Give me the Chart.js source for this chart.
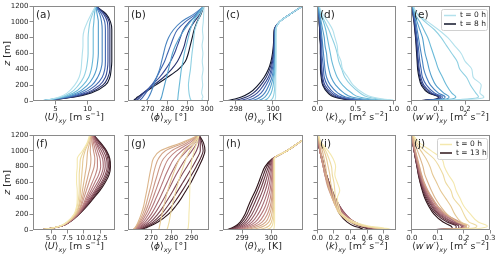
<!DOCTYPE html>
<html><head><meta charset="utf-8">
<script src="https://cdn.jsdelivr.net/npm/chart.js@4.4.1/dist/chart.umd.min.js"></script>
<style>
html,body{margin:0;padding:0;background:#fff;}
#wrap{position:relative;width:500px;height:258px;overflow:hidden;background:#fff;}
#wrap canvas{position:absolute;}
</style></head><body><div id="wrap"></div>
<script>
/* Boundary-layer profiles: top row t = 0..8 h, bottom row t = 0..13 h */

var Z = [0, 10, 25, 50, 100, 200, 300, 400, 500, 600, 700, 800, 900, 1000, 1100, 1200];
var Z_TICKS = [0, 200, 400, 600, 800, 1000, 1200];

/* ---------- top row (9 profiles) ---------- */
var U_TOP = [
  [2.2, 3.3, 4.4, 5.6, 6.8, 8.0, 8.7, 9.0, 9.1, 9.2, 9.3, 9.3, 9.5, 10.0, 10.6, 11.3],
  [2.2, 3.4, 4.6, 5.9, 7.3, 8.6, 9.4, 9.8, 10.0, 10.1, 10.1, 10.1, 10.2, 10.4, 10.8, 11.3],
  [2.2, 3.4, 4.7, 6.2, 7.8, 9.3, 10.2, 10.6, 10.8, 10.9, 10.9, 10.9, 10.9, 11.0, 11.1, 11.3],
  [2.2, 3.5, 4.8, 6.5, 8.3, 10.0, 10.9, 11.4, 11.6, 11.7, 11.7, 11.7, 11.7, 11.7, 11.5, 11.3],
  [2.2, 3.5, 4.9, 6.8, 8.8, 10.7, 11.6, 12.1, 12.3, 12.3, 12.3, 12.3, 12.3, 12.2, 11.9, 11.3],
  [2.2, 3.6, 5.0, 7.1, 9.3, 11.3, 12.3, 12.7, 12.8, 12.8, 12.8, 12.8, 12.8, 12.7, 12.2, 11.3],
  [2.2, 3.6, 5.1, 7.4, 9.8, 11.9, 12.8, 13.1, 13.2, 13.2, 13.2, 13.2, 13.2, 13.1, 12.5, 11.3],
  [2.2, 3.7, 5.2, 7.7, 10.2, 12.4, 13.2, 13.5, 13.5, 13.5, 13.5, 13.5, 13.5, 13.4, 12.7, 11.3],
  [2.2, 3.7, 5.3, 8.0, 10.6, 12.8, 13.5, 13.7, 13.8, 13.8, 13.8, 13.8, 13.8, 13.6, 12.9, 11.3]
];
var PHI_TOP = [
  [297.6, 297.8, 297.4, 297.9, 297.3, 297.8, 297.5, 298.0, 297.6, 297.9, 297.5, 298.0, 297.7, 298.1, 298.3, 298.5],
  [291.8, 291.9, 291.6, 291.3, 290.9, 290.6, 291.0, 291.6, 292.0, 292.4, 292.9, 293.3, 293.8, 295.2, 296.8, 298.5],
  [285.0, 285.1, 285.2, 285.3, 285.5, 286.0, 286.5, 287.0, 287.8, 288.5, 289.5, 290.5, 291.5, 293.0, 295.5, 298.5],
  [276.0, 276.3, 276.6, 277.0, 277.5, 278.5, 279.5, 280.5, 281.5, 282.5, 284.0, 286.0, 288.5, 291.5, 295.0, 298.5],
  [269.0, 269.4, 269.9, 270.5, 271.5, 273.0, 274.5, 276.0, 277.0, 278.0, 279.0, 280.5, 283.0, 287.0, 293.5, 298.5],
  [265.5, 266.0, 266.6, 267.5, 269.0, 272.0, 274.5, 276.5, 278.5, 280.0, 281.5, 283.0, 285.0, 289.0, 294.5, 298.5],
  [264.0, 264.5, 265.2, 266.2, 268.0, 272.0, 276.0, 279.0, 281.5, 283.5, 285.0, 286.5, 288.0, 291.0, 295.5, 298.5],
  [263.0, 263.5, 264.2, 265.3, 267.5, 273.0, 278.0, 282.0, 285.0, 287.0, 288.5, 289.5, 291.0, 293.5, 296.5, 298.5],
  [262.5, 263.0, 263.7, 264.8, 268.0, 274.0, 280.0, 285.5, 289.0, 290.5, 291.5, 292.5, 293.5, 295.0, 297.0, 298.5]
];
var TH_TOP = [
  [300.1, 300.11, 300.12, 300.14, 300.14, 300.15, 300.15, 300.16, 300.16, 300.16, 300.16, 300.16, 300.16, 300.35, 300.95, 301.6],
  [299.81, 299.88, 299.95, 300.01, 300.06, 300.1, 300.12, 300.14, 300.15, 300.15, 300.15, 300.15, 300.16, 300.35, 300.95, 301.6],
  [299.46, 299.56, 299.68, 299.78, 299.9, 300.01, 300.06, 300.1, 300.12, 300.14, 300.14, 300.14, 300.15, 300.35, 300.95, 301.6],
  [299.11, 299.26, 299.42, 299.56, 299.73, 299.9, 300.01, 300.06, 300.1, 300.11, 300.12, 300.12, 300.14, 300.35, 300.95, 301.6],
  [298.75, 298.93, 299.14, 299.33, 299.55, 299.78, 299.94, 300.02, 300.06, 300.09, 300.1, 300.11, 300.12, 300.35, 300.95, 301.6],
  [298.4, 298.63, 298.86, 299.07, 299.35, 299.63, 299.84, 299.96, 300.03, 300.06, 300.08, 300.09, 300.1, 300.35, 300.95, 301.6],
  [298.05, 298.3, 298.56, 298.81, 299.14, 299.49, 299.75, 299.9, 299.98, 300.04, 300.06, 300.08, 300.09, 300.35, 300.95, 301.6],
  [297.7, 297.97, 298.25, 298.56, 298.93, 299.34, 299.63, 299.82, 299.94, 300.01, 300.04, 300.05, 300.08, 300.35, 300.95, 301.6],
  [297.35, 297.64, 297.95, 298.29, 298.72, 299.19, 299.52, 299.75, 299.89, 299.97, 300.02, 300.04, 300.06, 300.35, 300.95, 301.6]
];
var K_TOP = [
  [0, 1.0, 0.86, 0.72, 0.6, 0.47, 0.4, 0.33, 0.31, 0.27, 0.26, 0.23, 0.2, 0.14, 0.07, 0.02],
  [0, 0.97, 0.8, 0.66, 0.56, 0.44, 0.36, 0.32, 0.28, 0.26, 0.23, 0.19, 0.15, 0.1, 0.05, 0.02],
  [0, 0.85, 0.7, 0.55, 0.45, 0.33, 0.26, 0.22, 0.19, 0.17, 0.15, 0.13, 0.11, 0.08, 0.04, 0.02],
  [0, 0.75, 0.6, 0.45, 0.35, 0.24, 0.18, 0.15, 0.13, 0.12, 0.1, 0.09, 0.07, 0.05, 0.03, 0.01],
  [0, 0.65, 0.5, 0.37, 0.27, 0.17, 0.12, 0.1, 0.09, 0.08, 0.07, 0.06, 0.05, 0.04, 0.02, 0.01],
  [0, 0.58, 0.45, 0.32, 0.22, 0.13, 0.09, 0.08, 0.07, 0.06, 0.06, 0.05, 0.04, 0.03, 0.02, 0.01],
  [0, 0.52, 0.4, 0.28, 0.19, 0.1, 0.07, 0.06, 0.05, 0.05, 0.05, 0.04, 0.04, 0.03, 0.02, 0.01],
  [0, 0.47, 0.36, 0.25, 0.16, 0.08, 0.06, 0.05, 0.05, 0.04, 0.04, 0.04, 0.03, 0.03, 0.02, 0.01],
  [0, 0.43, 0.33, 0.22, 0.14, 0.07, 0.05, 0.04, 0.04, 0.04, 0.04, 0.03, 0.03, 0.02, 0.02, 0.01]
];
var WW_TOP = [
  [0, 0.14, 0.24, 0.27, 0.255, 0.26, 0.23, 0.225, 0.2, 0.185, 0.16, 0.135, 0.1, 0.06, 0.02, 0.005],
  [0, 0.12, 0.21, 0.25, 0.24, 0.22, 0.205, 0.18, 0.17, 0.15, 0.13, 0.11, 0.085, 0.05, 0.02, 0.005],
  [0, 0.1, 0.15, 0.165, 0.15, 0.13, 0.115, 0.1, 0.09, 0.08, 0.07, 0.06, 0.045, 0.03, 0.012, 0.004],
  [0, 0.08, 0.13, 0.14, 0.12, 0.09, 0.075, 0.065, 0.058, 0.05, 0.045, 0.04, 0.03, 0.02, 0.01, 0.003],
  [0, 0.07, 0.115, 0.125, 0.1, 0.07, 0.055, 0.045, 0.04, 0.035, 0.03, 0.025, 0.02, 0.015, 0.008, 0.003],
  [0, 0.06, 0.105, 0.115, 0.085, 0.055, 0.04, 0.035, 0.03, 0.027, 0.024, 0.02, 0.016, 0.012, 0.006, 0.002],
  [0, 0.055, 0.1, 0.108, 0.075, 0.045, 0.034, 0.028, 0.025, 0.022, 0.02, 0.017, 0.014, 0.01, 0.005, 0.002],
  [0, 0.05, 0.095, 0.103, 0.068, 0.04, 0.03, 0.025, 0.022, 0.02, 0.018, 0.015, 0.012, 0.009, 0.005, 0.002],
  [0, 0.048, 0.092, 0.1, 0.063, 0.036, 0.027, 0.022, 0.02, 0.018, 0.016, 0.014, 0.011, 0.008, 0.004, 0.002]
];

/* ---------- bottom row (14 profiles) ---------- */
var U_BOT = [
  [2.7, 4.0, 5.2, 6.4, 7.4, 8.5, 8.9, 9.0, 9.0, 8.9, 8.9, 9.0, 9.0, 9.8, 10.5, 10.9],
  [2.7, 4.0, 5.2, 6.4, 7.4, 8.6, 9.0, 9.2, 9.3, 9.3, 9.3, 9.4, 9.5, 10.0, 10.6, 11.0],
  [2.7, 4.0, 5.2, 6.4, 7.5, 8.7, 9.2, 9.4, 9.5, 9.6, 9.7, 9.8, 9.9, 10.2, 10.7, 11.0],
  [2.7, 4.0, 5.2, 6.4, 7.5, 8.8, 9.3, 9.6, 9.8, 10.0, 10.2, 10.4, 10.5, 10.6, 10.9, 11.1],
  [2.7, 4.0, 5.2, 6.5, 7.6, 8.9, 9.5, 9.8, 10.1, 10.4, 10.7, 11.0, 11.1, 11.0, 11.1, 11.2],
  [2.7, 4.0, 5.2, 6.5, 7.6, 9.0, 9.6, 10.0, 10.4, 10.8, 11.2, 11.6, 11.7, 11.5, 11.3, 11.2],
  [2.7, 4.0, 5.2, 6.5, 7.7, 9.0, 9.8, 10.3, 10.8, 11.3, 11.8, 12.1, 12.1, 11.8, 11.5, 11.3],
  [2.7, 4.0, 5.3, 6.5, 7.7, 9.1, 9.9, 10.5, 11.1, 11.7, 12.3, 12.6, 12.5, 12.1, 11.7, 11.3],
  [2.7, 4.0, 5.3, 6.5, 7.7, 9.1, 10.0, 10.7, 11.4, 12.1, 12.7, 13.0, 12.9, 12.4, 11.9, 11.4],
  [2.7, 4.0, 5.3, 6.6, 7.8, 9.2, 10.1, 10.9, 11.7, 12.4, 13.0, 13.3, 13.2, 12.7, 12.0, 11.4],
  [2.7, 4.0, 5.3, 6.6, 7.8, 9.2, 10.2, 11.1, 11.9, 12.7, 13.3, 13.6, 13.5, 13.0, 12.2, 11.4],
  [2.7, 4.0, 5.3, 6.6, 7.8, 9.2, 10.3, 11.2, 12.1, 12.9, 13.5, 13.8, 13.7, 13.3, 12.4, 11.5],
  [2.7, 4.0, 5.3, 6.6, 7.8, 9.3, 10.4, 11.4, 12.3, 13.1, 13.7, 14.0, 13.9, 13.4, 12.5, 11.5],
  [2.7, 4.0, 5.3, 6.6, 7.8, 9.3, 10.5, 11.5, 12.5, 13.3, 13.9, 14.1, 14.0, 13.5, 12.6, 11.5]
];
var PHI_BOT = [
  [288.0, 288.0, 288.2, 288.3, 288.5, 288.6, 288.8, 288.9, 289.0, 289.1, 289.3, 289.6, 290.2, 291.2, 292.5, 293.6],
  [277.5, 277.8, 278.0, 278.3, 278.8, 279.5, 280.3, 281.2, 282.2, 283.3, 284.5, 285.8, 287.2, 289.0, 291.3, 293.6],
  [273.5, 273.7, 273.9, 274.1, 274.5, 275.3, 276.2, 277.1, 278.2, 279.4, 280.7, 282.2, 284.0, 286.5, 290.2, 293.6],
  [260.8, 261.2, 261.8, 262.5, 263.5, 265.0, 266.2, 267.0, 267.8, 268.5, 269.2, 270.0, 271.0, 274.5, 284.5, 293.6],
  [260.8, 261.3, 262.0, 262.8, 264.0, 265.8, 267.2, 268.2, 269.2, 270.2, 271.0, 272.0, 273.5, 277.0, 286.0, 293.6],
  [261.0, 261.5, 262.2, 263.0, 264.5, 266.6, 268.2, 269.5, 270.7, 271.8, 273.0, 274.2, 276.0, 280.0, 287.5, 293.6],
  [261.2, 261.8, 262.5, 263.5, 265.2, 267.5, 269.3, 270.8, 272.2, 273.6, 275.0, 276.5, 278.5, 282.5, 289.0, 293.6],
  [261.5, 262.2, 263.0, 264.0, 266.0, 268.6, 270.6, 272.3, 274.0, 275.6, 277.2, 279.0, 281.2, 285.0, 290.3, 293.6],
  [262.0, 262.7, 263.5, 264.8, 267.0, 270.0, 272.2, 274.2, 276.0, 277.8, 279.6, 281.6, 284.0, 287.5, 291.5, 293.6],
  [262.5, 263.3, 264.2, 265.6, 268.2, 271.5, 274.0, 276.3, 278.3, 280.3, 282.3, 284.5, 287.0, 290.0, 292.5, 293.6],
  [263.0, 263.8, 264.8, 266.5, 269.5, 273.2, 276.0, 278.5, 280.8, 283.0, 285.2, 287.6, 290.0, 292.3, 293.5, 293.6],
  [263.5, 264.4, 265.5, 267.5, 270.8, 275.0, 278.0, 280.7, 283.2, 285.6, 288.0, 290.3, 292.5, 294.2, 294.2, 293.6],
  [264.0, 265.0, 266.3, 268.5, 272.0, 276.7, 280.0, 282.8, 285.4, 287.8, 290.0, 292.2, 294.2, 295.6, 295.0, 293.6],
  [264.5, 265.5, 267.0, 269.5, 273.3, 278.5, 282.0, 284.8, 287.2, 289.6, 291.6, 293.5, 295.3, 296.5, 295.8, 293.6]
];
var TH_BOT = [
  [300.07, 300.09, 300.1, 300.11, 300.12, 300.12, 300.12, 300.12, 300.12, 300.12, 300.12, 300.12, 300.12, 300.55, 300.95, 301.35],
  [299.67, 299.87, 299.97, 300.03, 300.07, 300.1, 300.11, 300.11, 300.11, 300.11, 300.11, 300.11, 300.11, 300.55, 300.95, 301.35],
  [299.37, 299.62, 299.79, 299.92, 300.01, 300.07, 300.09, 300.1, 300.1, 300.1, 300.1, 300.1, 300.1, 300.55, 300.95, 301.35],
  [299.12, 299.37, 299.57, 299.75, 299.92, 300.02, 300.06, 300.08, 300.09, 300.09, 300.09, 300.09, 300.1, 300.55, 300.95, 301.35],
  [298.97, 299.19, 299.39, 299.6, 299.81, 299.95, 300.02, 300.05, 300.07, 300.08, 300.08, 300.09, 300.09, 300.55, 300.95, 301.35],
  [298.87, 299.07, 299.25, 299.46, 299.69, 299.87, 299.97, 300.02, 300.05, 300.07, 300.07, 300.08, 300.09, 300.55, 300.95, 301.35],
  [298.77, 298.97, 299.14, 299.34, 299.57, 299.77, 299.89, 299.97, 300.01, 300.04, 300.05, 300.06, 300.09, 300.55, 300.95, 301.35],
  [298.72, 298.89, 299.05, 299.23, 299.45, 299.66, 299.8, 299.89, 299.96, 300.0, 300.03, 300.05, 300.08, 300.55, 300.95, 301.35],
  [298.67, 298.82, 298.97, 299.14, 299.34, 299.55, 299.69, 299.8, 299.89, 299.95, 299.99, 300.03, 300.08, 300.55, 300.95, 301.35],
  [298.62, 298.75, 298.89, 299.05, 299.24, 299.44, 299.58, 299.7, 299.8, 299.88, 299.94, 300.0, 300.07, 300.55, 300.95, 301.35],
  [298.57, 298.69, 298.82, 298.97, 299.15, 299.34, 299.48, 299.6, 299.71, 299.8, 299.88, 299.96, 300.07, 300.55, 300.95, 301.35],
  [298.52, 298.62, 298.74, 298.89, 299.07, 299.25, 299.38, 299.5, 299.62, 299.72, 299.81, 299.91, 300.06, 300.55, 300.95, 301.35],
  [298.47, 298.57, 298.69, 298.82, 298.99, 299.17, 299.29, 299.41, 299.53, 299.64, 299.74, 299.85, 300.05, 300.55, 300.95, 301.35],
  [298.42, 298.52, 298.64, 298.77, 298.93, 299.1, 299.21, 299.33, 299.46, 299.57, 299.67, 299.79, 300.04, 300.55, 300.95, 301.35]
];
var K_BOT = [
  [0, 0.88, 0.8, 0.62, 0.45, 0.3, 0.26, 0.24, 0.27, 0.24, 0.21, 0.22, 0.19, 0.13, 0.05, 0.01],
  [0, 0.84, 0.75, 0.58, 0.42, 0.28, 0.24, 0.22, 0.21, 0.2, 0.18, 0.17, 0.14, 0.1, 0.04, 0.01],
  [0, 0.8, 0.72, 0.55, 0.4, 0.27, 0.22, 0.2, 0.18, 0.16, 0.15, 0.13, 0.11, 0.08, 0.03, 0.01],
  [0, 0.78, 0.7, 0.54, 0.4, 0.28, 0.22, 0.18, 0.15, 0.13, 0.11, 0.1, 0.08, 0.06, 0.03, 0.01],
  [0, 0.78, 0.7, 0.55, 0.41, 0.29, 0.22, 0.18, 0.15, 0.12, 0.1, 0.08, 0.06, 0.04, 0.02, 0.01],
  [0, 0.77, 0.72, 0.56, 0.42, 0.3, 0.23, 0.18, 0.14, 0.11, 0.09, 0.07, 0.05, 0.03, 0.02, 0.01],
  [0, 0.76, 0.7, 0.57, 0.43, 0.31, 0.24, 0.19, 0.15, 0.12, 0.09, 0.07, 0.05, 0.03, 0.02, 0.0],
  [0, 0.74, 0.7, 0.58, 0.45, 0.33, 0.25, 0.2, 0.16, 0.12, 0.09, 0.07, 0.05, 0.03, 0.02, 0.0],
  [0, 0.72, 0.68, 0.57, 0.45, 0.33, 0.26, 0.21, 0.16, 0.13, 0.1, 0.07, 0.05, 0.03, 0.01, 0.0],
  [0, 0.7, 0.66, 0.56, 0.45, 0.34, 0.27, 0.21, 0.17, 0.13, 0.1, 0.08, 0.05, 0.03, 0.01, 0.0],
  [0, 0.68, 0.64, 0.55, 0.44, 0.34, 0.27, 0.22, 0.17, 0.14, 0.11, 0.08, 0.05, 0.03, 0.01, 0.0],
  [0, 0.66, 0.62, 0.53, 0.43, 0.33, 0.27, 0.22, 0.18, 0.14, 0.11, 0.08, 0.06, 0.03, 0.01, 0.0],
  [0, 0.62, 0.58, 0.5, 0.4, 0.31, 0.26, 0.21, 0.17, 0.14, 0.11, 0.08, 0.06, 0.03, 0.01, 0.0],
  [0, 0.55, 0.52, 0.44, 0.36, 0.27, 0.23, 0.19, 0.16, 0.13, 0.1, 0.08, 0.05, 0.03, 0.01, 0.0]
];
var WW_BOT = [
  [0, 0.21, 0.27, 0.29, 0.255, 0.225, 0.2, 0.185, 0.17, 0.16, 0.14, 0.125, 0.115, 0.075, 0.03, 0.005],
  [0, 0.18, 0.24, 0.25, 0.22, 0.2, 0.185, 0.16, 0.15, 0.13, 0.12, 0.105, 0.085, 0.05, 0.02, 0.004],
  [0, 0.16, 0.215, 0.22, 0.19, 0.165, 0.15, 0.13, 0.11, 0.095, 0.08, 0.07, 0.055, 0.035, 0.015, 0.004],
  [0, 0.15, 0.205, 0.21, 0.175, 0.135, 0.11, 0.09, 0.075, 0.062, 0.05, 0.043, 0.033, 0.022, 0.01, 0.003],
  [0, 0.15, 0.2, 0.21, 0.18, 0.13, 0.1, 0.08, 0.062, 0.048, 0.038, 0.03, 0.022, 0.014, 0.006, 0.002],
  [0, 0.15, 0.2, 0.21, 0.185, 0.13, 0.1, 0.078, 0.06, 0.046, 0.036, 0.028, 0.02, 0.013, 0.006, 0.002],
  [0, 0.15, 0.205, 0.21, 0.18, 0.125, 0.095, 0.075, 0.058, 0.045, 0.035, 0.027, 0.019, 0.012, 0.005, 0.002],
  [0, 0.15, 0.2, 0.205, 0.175, 0.12, 0.09, 0.07, 0.055, 0.043, 0.033, 0.025, 0.018, 0.011, 0.005, 0.002],
  [0, 0.145, 0.195, 0.2, 0.17, 0.115, 0.088, 0.068, 0.052, 0.04, 0.031, 0.024, 0.017, 0.01, 0.005, 0.002],
  [0, 0.14, 0.19, 0.195, 0.16, 0.11, 0.084, 0.065, 0.05, 0.038, 0.03, 0.023, 0.016, 0.01, 0.004, 0.002],
  [0, 0.14, 0.19, 0.19, 0.155, 0.105, 0.08, 0.062, 0.048, 0.037, 0.028, 0.022, 0.015, 0.009, 0.004, 0.002],
  [0, 0.135, 0.18, 0.18, 0.145, 0.1, 0.076, 0.058, 0.045, 0.035, 0.027, 0.021, 0.015, 0.009, 0.004, 0.002],
  [0, 0.13, 0.17, 0.17, 0.135, 0.093, 0.07, 0.054, 0.042, 0.033, 0.026, 0.02, 0.014, 0.009, 0.004, 0.002],
  [0, 0.12, 0.155, 0.15, 0.12, 0.085, 0.065, 0.05, 0.04, 0.032, 0.025, 0.02, 0.014, 0.009, 0.004, 0.002]
];

/* tick values / labels */
var TICKS_U_TOP = [5, 10],             LBL_U_TOP = ['5', '10'];
var TICKS_PHI_TOP = [270, 280, 290, 300], LBL_PHI_TOP = ['270', '280', '290', '300'];
var TICKS_TH_TOP = [298, 300],          LBL_TH_TOP = ['298', '300'];
var TICKS_K_TOP = [0, 0.5, 1.0],        LBL_K_TOP = ['0.0', '0.5', '1.0'];
var TICKS_WW_TOP = [0, 0.1, 0.2],       LBL_WW_TOP = ['0.0', '0.1', '0.2'];
var TICKS_U_BOT = [5, 7.5, 10, 12.5],   LBL_U_BOT = ['5.0', '7.5', '10.0', '12.5'];
var TICKS_PHI_BOT = [270, 280, 290],    LBL_PHI_BOT = ['270', '280', '290'];
var TICKS_TH_BOT = [299, 300],          LBL_TH_BOT = ['299', '300'];
var TICKS_K_BOT = [0, 0.2, 0.4, 0.6, 0.8], LBL_K_BOT = ['0.0', '0.2', '0.4', '0.6', '0.8'];
var TICKS_WW_BOT = [0, 0.1, 0.2, 0.3],  LBL_WW_BOT = ['0.0', '0.1', '0.2', '0.3'];

var LEGEND_TOP = ['t = 0 h', 't = 8 h'];
var LEGEND_BOT = ['t = 0 h', 't = 13 h'];

var COL_TOP = ['#b3e1ec', '#8fd0e2', '#6bbad8', '#539fcc', '#4883c0', '#4065b0', '#364a96', '#26306c', '#0f1428'];
var COL_BOT = ['#f4e8ae', '#eddaa0', '#e5c894', '#dcb68c', '#d3a588', '#ca9585', '#c08682', '#b4777c', '#a66972',
               '#955a66', '#824b57', '#6b3a46', '#502833', '#2e1419'];

/* axis-label pieces: 0 normal, 1 italic, 2 italic subscript, 3 superscript */
var XL_U   = [['\u27E8',0],['U',1],['\u27E9',0],['xy',2],[' [m s',0],['\u22121',3],[']',0]];
var XL_PHI = [['\u27E8',0],['\u03D5',1],['\u27E9',0],['xy',2],[' [\u00B0]',0]];
var XL_TH  = [['\u27E8',0],['\u03B8',1],['\u27E9',0],['xy',2],[' [K]',0]];
var XL_K   = [['\u27E8',0],['k',1],['\u27E9',0],['xy',2],[' [m',0],['2',3],[' s',0],['\u22122',3],[']',0]];
var XL_WW  = [['\u27E8',0],['w\u2032w\u2032',1],['\u27E9',0],['xy',2],[' [m',0],['2',3],[' s',0],['\u22122',3],[']',0]];
var YL     = [['z',1],[' [m]',0]];

/* ---------- layout ---------- */
var COL_X = [33, 128, 223, 317, 411];
var COL_W = [82, 81, 80, 79, 79];
var ROW_Y = [6, 135];
var PLOT_H = 95;

var PANELS = [
  {tag:'(a)', data:U_TOP,   cols:COL_TOP, min:1.5,    max:14.3,   ticks:TICKS_U_TOP,   lbl:LBL_U_TOP,   xl:XL_U},
  {tag:'(b)', data:PHI_TOP, cols:COL_TOP, min:260,    max:301,    ticks:TICKS_PHI_TOP, lbl:LBL_PHI_TOP, xl:XL_PHI},
  {tag:'(c)', data:TH_TOP,  cols:COL_TOP, min:297.3,  max:301.62, ticks:TICKS_TH_TOP,  lbl:LBL_TH_TOP,  xl:XL_TH},
  {tag:'(d)', data:K_TOP,   cols:COL_TOP, min:-0.005, max:1.03,   ticks:TICKS_K_TOP,   lbl:LBL_K_TOP,   xl:XL_K},
  {tag:'(e)', data:WW_TOP,  cols:COL_TOP, min:-0.003, max:0.293,  ticks:TICKS_WW_TOP,  lbl:LBL_WW_TOP,  xl:XL_WW, leg:LEGEND_TOP},
  {tag:'(f)', data:U_BOT,   cols:COL_BOT, min:2.2,    max:14.8,   ticks:TICKS_U_BOT,   lbl:LBL_U_BOT,   xl:XL_U},
  {tag:'(g)', data:PHI_BOT, cols:COL_BOT, min:258.5,  max:298.5,  ticks:TICKS_PHI_BOT, lbl:LBL_PHI_BOT, xl:XL_PHI},
  {tag:'(h)', data:TH_BOT,  cols:COL_BOT, min:298.34, max:301.1,  ticks:TICKS_TH_BOT,  lbl:LBL_TH_BOT,  xl:XL_TH},
  {tag:'(i)', data:K_BOT,   cols:COL_BOT, min:-0.005, max:0.95,   ticks:TICKS_K_BOT,   lbl:LBL_K_BOT,   xl:XL_K},
  {tag:'(j)', data:WW_BOT,  cols:COL_BOT, min:-0.003, max:0.3,    ticks:TICKS_WW_BOT,  lbl:LBL_WW_BOT,  xl:XL_WW, leg:LEGEND_BOT}
];

var FAM = '"DejaVu Sans"';
var FRAME = '#8a8a8a', TXT = '#262626';
var TICK_FS = 7, LABEL_FS = 9.5;
Chart.defaults.font.family = 'DejaVu Sans';

function partFont(s, fs){
  if(s===1) return 'italic '+fs+'px '+FAM;
  if(s===2) return 'italic '+(fs*0.7)+'px '+FAM;
  if(s===3) return (fs*0.7)+'px '+FAM;
  return fs+'px '+FAM;
}
function partDy(s, fs){ return s===2 ? fs*0.3 : s===3 ? -fs*0.38 : 0; }
function drawRich(ctx, parts, cx, cy, fs){
  var w = 0;
  parts.forEach(function(p){ ctx.font = partFont(p[1], fs); w += ctx.measureText(p[0]).width; });
  var x = cx - w/2;
  ctx.textAlign = 'left'; ctx.textBaseline = 'middle'; ctx.fillStyle = TXT;
  parts.forEach(function(p){
    ctx.font = partFont(p[1], fs);
    ctx.fillText(p[0], x, cy + partDy(p[1], fs));
    x += ctx.measureText(p[0]).width;
  });
}

function drawLegend(ctx, a, texts, cols, boxW){
  var bx = a.right - boxW - 3, by = a.top + 3, bh = 21;
  ctx.save();
  ctx.fillStyle = 'rgba(255,255,255,0.85)';
  ctx.strokeStyle = '#d0d0d0'; ctx.lineWidth = 1;
  ctx.beginPath();
  if(ctx.roundRect) ctx.roundRect(bx+0.5, by+0.5, boxW, bh, 2); else ctx.rect(bx+0.5, by+0.5, boxW, bh);
  ctx.fill(); ctx.stroke();
  ctx.font = '7.5px '+FAM; ctx.textBaseline = 'middle'; ctx.textAlign = 'left';
  [cols[0], cols[cols.length-1]].forEach(function(c, k){
    var yy = by + 6.5 + k*8.5;
    ctx.strokeStyle = c; ctx.lineWidth = 1.5;
    ctx.beginPath(); ctx.moveTo(bx+3, yy); ctx.lineTo(bx+15, yy); ctx.stroke();
    ctx.fillStyle = TXT; ctx.fillText(texts[k], bx+19, yy);
  });
  ctx.restore();
}

var wrap = document.getElementById('wrap');

PANELS.forEach(function(p, i){
  var col = i % 5, row = Math.floor(i / 5);
  var yw = col === 0 ? 33 : 12;
  var padTop = 6, padRight = 10, xh = 30;
  var L = COL_X[col] - yw, T = ROW_Y[row] - padTop;
  var W = yw + COL_W[col] + padRight, H = padTop + PLOT_H + xh;

  var cv = document.createElement('canvas');
  cv.width = W; cv.height = H;
  cv.style.left = L + 'px'; cv.style.top = T + 'px';
  wrap.appendChild(cv);

  var sets = p.data.map(function(prof, t){
    return {
      data: prof.map(function(v, k){ return {x: v, y: Z[k]}; }),
      borderColor: p.cols[t], borderWidth: 1.1,
      pointRadius: 0, fill: false, cubicInterpolationMode: 'monotone'
    };
  });

  var deco = {
    id: 'deco' + i,
    afterDraw: function(chart){
      var a = chart.chartArea, ctx = chart.ctx;
      ctx.save();
      ctx.strokeStyle = FRAME; ctx.lineWidth = 1;
      ctx.strokeRect(Math.round(a.left)+0.5, Math.round(a.top)+0.5,
                     Math.round(a.right-a.left)-1, Math.round(a.bottom-a.top)-1);
      ctx.fillStyle = TXT; ctx.font = '10.5px '+FAM;
      ctx.textAlign = 'left'; ctx.textBaseline = 'alphabetic';
      ctx.fillText(p.tag, a.left + 3, a.top + 12);
      drawRich(ctx, p.xl, (a.left + a.right)/2, a.bottom + 17, LABEL_FS);
      if(col === 0){
        ctx.save();
        ctx.translate(8, (a.top + a.bottom)/2);
        ctx.rotate(-Math.PI/2);
        drawRich(ctx, YL, 0, 0, LABEL_FS);
        ctx.restore();
      }
      if(p.leg) drawLegend(ctx, a, p.leg, p.cols, row === 0 ? 46 : 50);
      ctx.restore();
    }
  };

  new Chart(cv, {
    type: 'line',
    data: { datasets: sets },
    options: {
      indexAxis: 'y',
      responsive: false, animation: false, devicePixelRatio: 1,
      layout: { padding: { top: padTop, right: padRight, left: 0, bottom: 0 } },
      plugins: { legend: { display: false }, tooltip: { enabled: false } },
      scales: {
        x: {
          type: 'linear', position: 'bottom', min: p.min, max: p.max,
          afterBuildTicks: function(ax){ ax.ticks = p.ticks.map(function(v){ return {value: v}; }); },
          afterFit: function(ax){ ax.height = xh; },
          ticks: { autoSkip: false, maxRotation: 0, padding: 0, color: TXT, font: { size: TICK_FS },
                   callback: function(v){ var k = p.ticks.indexOf(v); return k < 0 ? '' : p.lbl[k]; } },
          grid: { drawOnChartArea: false, drawTicks: true, tickLength: 3.5, color: FRAME },
          border: { display: false }
        },
        y: {
          type: 'linear', position: 'left', min: 0, max: 1200,
          afterBuildTicks: function(ax){ ax.ticks = Z_TICKS.map(function(v){ return {value: v}; }); },
          afterFit: function(ax){ ax.width = yw; },
          ticks: { display: col === 0, padding: 1, color: TXT, font: { size: TICK_FS },
                   callback: function(v){ return String(v); } },
          grid: { drawOnChartArea: false, drawTicks: true, tickLength: 3.5, color: FRAME },
          border: { display: false }
        }
      }
    },
    plugins: [deco]
  });
});
</script></body></html>
